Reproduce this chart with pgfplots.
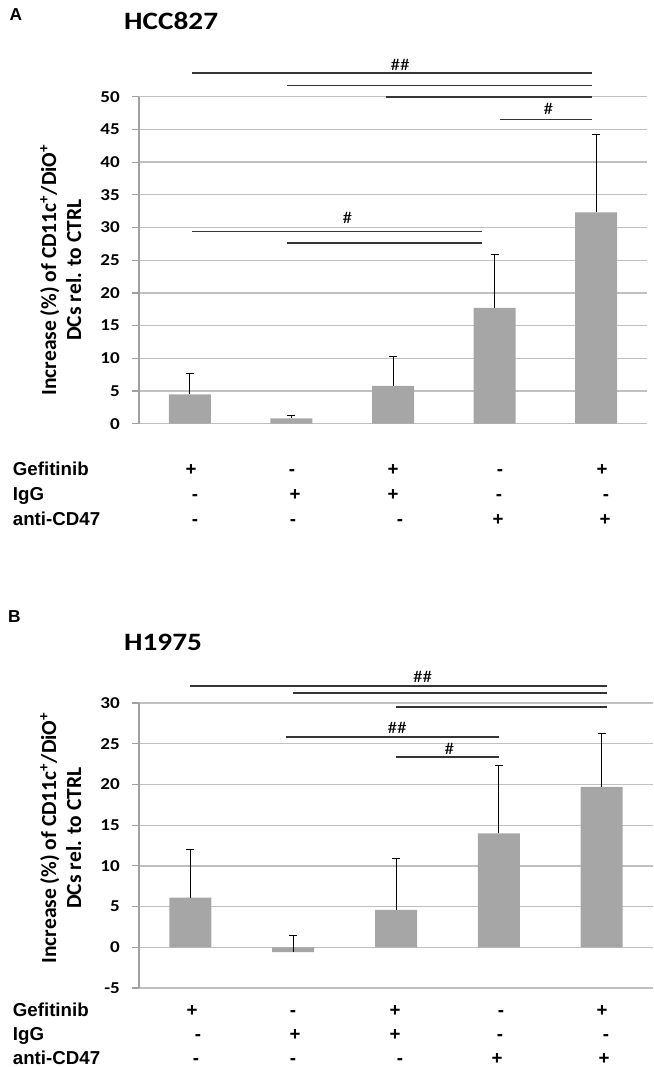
\documentclass[border=0pt]{standalone}
\usepackage{fontspec}
\setmainfont{Carlito}
\newfontfamily\arial{Liberation Sans}
\newfontfamily\calw[FakeStretch=1.15]{Carlito}
\newfontfamily\calt[FakeStretch=1.17]{Carlito}
\usepackage{pgfplots}
\pgfplotsset{compat=1.18}
\definecolor{bargray}{HTML}{A6A6A6}
\definecolor{gridgray}{HTML}{C0C0C0}
\definecolor{axgray}{HTML}{A0A0A0}
\definecolor{sigline}{HTML}{353535}
\newcommand{\fs}[1]{\fontsize{#1}{#1}\selectfont}

\tikzset{sig/.style={draw=sigline, line width=1.8pt}}
\pgfplotsset{
  excelbar/.style={
    scale only axis,
    anchor=south west,
    xmin=-0.5, xmax=4.5,
    enlargelimits=false,
    clip=false,
    axis x line=none,
    axis y line*=left,
    y axis line style={draw=axgray, line width=1.2pt},
    ymajorgrids,
    grid style={draw=gridgray, line width=1.3pt},
    ytick style={draw=axgray, line width=1.2pt},
    tick align=outside,
    major tick length=7pt,
    /pgf/number format/assume math mode=true,
    yticklabel style={font=\calw\bfseries\fs{16.6}, inner sep=0pt, xshift=-12pt},
  },
}

\pgfplotstableread{
x y e
0 4.5 3.1
1 0.8 0.4
2 5.8 4.4
3 17.7 8.1
4 32.3 11.9
}\hcc

\pgfplotstableread{
x y e
0 6.1 5.9
1 -0.6 2.0
2 4.6 6.3
3 14.0 8.3
4 19.7 6.5
}\hnf

\begin{document}
\begin{tikzpicture}[x=1pt,y=1pt]
\path[use as bounding box] (0,0) rectangle (653,-1067);

% ---------------- Panel A ----------------
\node[font=\arial\bfseries\fs{17.3}, anchor=base west, inner sep=0pt] at (9.3,-20.7) {A};
\node[font=\calt\bfseries\fs{25}, anchor=base west, inner sep=0pt] at (124,-30) {HCC827};

\begin{axis}[excelbar, at={(139pt,-423.7pt)}, width=508pt, height=327pt,
  ymin=0, ymax=50, ytick={0,5,...,50}]
\addplot[ybar, bar width=42pt, fill=bargray, draw=none,
  error bars/.cd, y dir=plus, y explicit,
  error bar style={black, line width=1pt},
  error mark options={rotate=90, mark size=4pt, black, line width=1pt}]
  table[x=x, y=y, y error=e] {\hcc};
\draw[sig] (axis cs:0.02,53.6) -- (axis cs:3.96,53.6);
\draw[sig] (axis cs:0.96,51.7) -- (axis cs:3.96,51.7);
\draw[sig] (axis cs:1.93,50.0) -- (axis cs:3.96,50.0);
\draw[sig] (axis cs:3.05,46.5) -- (axis cs:3.96,46.5);
\draw[sig] (axis cs:0.02,29.4) -- (axis cs:2.88,29.4);
\draw[sig] (axis cs:0.96,27.6) -- (axis cs:2.88,27.6);
\node[font=\calw\fs{16.6}, anchor=base, inner sep=0pt, yshift=3pt] at (axis cs:2.07,53.6) {\#\#};
\node[font=\calw\fs{16.6}, anchor=base, inner sep=0pt, yshift=5pt] at (axis cs:3.53,46.5) {\#};
\node[font=\calw\fs{16.6}, anchor=base, inner sep=0pt, yshift=8pt] at (axis cs:1.55,29.4) {\#};
\end{axis}

\node[rotate=90, anchor=south, inner sep=0pt, align=center, font=\bfseries\fontsize{21.5}{25}\selectfont]
  at (81.6,-270) {Increase (\%) of CD11c\textsuperscript{+}/DiO\textsuperscript{+}\\DCs rel. to CTRL};

\begin{scope}[every node/.style={font=\arial\bfseries\fs{18.7}, anchor=base, inner sep=0pt}]
\node[anchor=base west] at (12.7,-475.7) {Gefitinib};
\node[anchor=base west] at (12.7,-500) {IgG};
\node[anchor=base west] at (12.7,-525) {anti-CD47};
\node at (191,-475.7) {+}; \node at (292,-475.7) {-}; \node at (393,-475.7) {+}; \node at (500,-475.7) {-}; \node at (602,-475.7) {+};
\node at (195,-500) {-}; \node at (295,-500) {+}; \node at (393,-500) {+}; \node at (499,-500) {-}; \node at (606,-500) {-};
\node at (195,-525) {-}; \node at (293,-525) {-}; \node at (400,-525) {-}; \node at (498,-525) {+}; \node at (605,-525) {+};
\end{scope}

% ---------------- Panel B ----------------
\node[font=\arial\bfseries\fs{17.3}, anchor=base west, inner sep=0pt] at (8,-622) {B};
\node[font=\calt\bfseries\fs{25}, anchor=base west, inner sep=0pt] at (124,-650) {H1975};

\begin{axis}[excelbar, at={(139pt,-988pt)}, width=514pt, height=285pt,
  ymin=-5, ymax=30, ytick={-5,0,...,30}]
\addplot[ybar, bar width=42pt, fill=bargray, draw=none,
  error bars/.cd, y dir=plus, y explicit,
  error bar style={black, line width=1pt},
  error mark options={rotate=90, mark size=4pt, black, line width=1pt}]
  table[x=x, y=y, y error=e] {\hnf};
\draw[sig] (axis cs:0,32.1) -- (axis cs:4.05,32.1);
\draw[sig] (axis cs:1.0,31.2) -- (axis cs:4.05,31.2);
\draw[sig] (axis cs:2.0,29.55) -- (axis cs:4.05,29.55);
\draw[sig] (axis cs:0.93,25.8) -- (axis cs:3.0,25.8);
\draw[sig] (axis cs:2.0,23.4) -- (axis cs:3.0,23.4);
\node[font=\calw\fs{16.6}, anchor=base, inner sep=0pt, yshift=3pt] at (axis cs:2.26,32.1) {\#\#};
\node[font=\calw\fs{16.6}, anchor=base, inner sep=0pt, yshift=4pt] at (axis cs:2.01,25.8) {\#\#};
\node[font=\calw\fs{16.6}, anchor=base, inner sep=0pt, yshift=2pt] at (axis cs:2.52,23.4) {\#};
\end{axis}

\node[rotate=90, anchor=south, inner sep=0pt, align=center, font=\bfseries\fontsize{21.5}{25}\selectfont]
  at (81.6,-838) {Increase (\%) of CD11c\textsuperscript{+}/DiO\textsuperscript{+}\\DCs rel. to CTRL};

\begin{scope}[every node/.style={font=\arial\bfseries\fs{18.7}, anchor=base, inner sep=0pt}]
\node[anchor=base west] at (12.7,-1016) {Gefitinib};
\node[anchor=base west] at (12.7,-1040) {IgG};
\node[anchor=base west] at (12.7,-1064) {anti-CD47};
\node at (192,-1016) {+}; \node at (293,-1016) {-}; \node at (395,-1016) {+}; \node at (501,-1016) {-}; \node at (602,-1016) {+};
\node at (198,-1040) {-}; \node at (295,-1040) {+}; \node at (395,-1040) {+}; \node at (500,-1040) {-}; \node at (606,-1040) {-};
\node at (196,-1064) {-}; \node at (293,-1064) {-}; \node at (400,-1064) {-}; \node at (497,-1064) {+}; \node at (604,-1064) {+};
\end{scope}
\end{tikzpicture}
\end{document}
